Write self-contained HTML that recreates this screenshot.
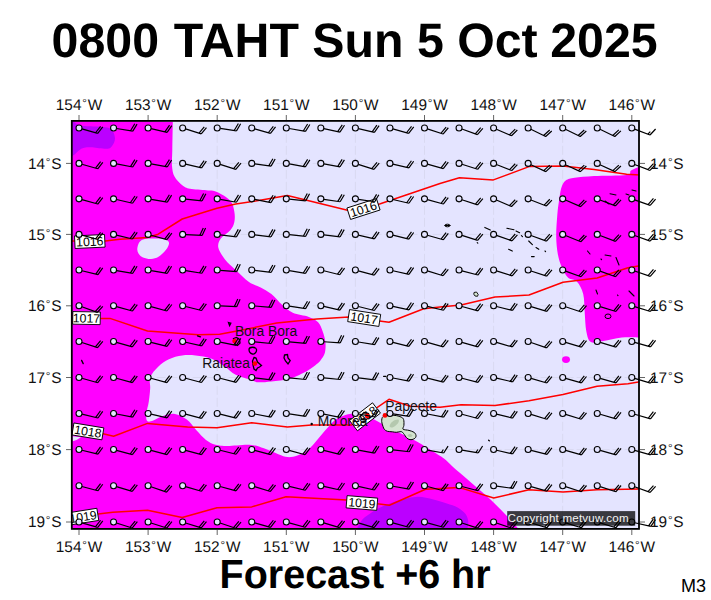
<!DOCTYPE html>
<html><head><meta charset="utf-8"><title>0800 TAHT Sun 5 Oct 2025</title>
<style>html,body{margin:0;padding:0;background:#fff;} svg{display:block;} text{font-family:"Liberation Sans",Arial,sans-serif;}</style>
</head><body>
<svg width="711" height="600" viewBox="0 0 711 600">
<defs><clipPath id="mc"><rect x="71.69999999999999" y="120.89999999999999" width="567.5999999999999" height="408.29999999999995"/></clipPath></defs>
<rect x="0" y="0" width="711" height="600" fill="#fff"/>
<g clip-path="url(#mc)">
<rect x="69.6" y="118.8" width="571.8" height="412.49999999999994" fill="#e4e4ff"/>
<path d="M562.7,121.8 V528.3 M493.6,121.8 V528.3 M424.5,121.8 V528.3 M355.4,121.8 V528.3 M286.3,121.8 V528.3 M217.2,121.8 V528.3 M148.1,121.8 V528.3 M72.6,163.4 H638.4 M72.6,234.4 H638.4 M72.6,305.8 H638.4 M72.6,377.5 H638.4 M72.6,449.6 H638.4 M72.6,522.0 H638.4" stroke="#d9d9f1" stroke-width="1" stroke-dasharray="9,3" fill="none"/>
<path d="M172.8,121.8 C172.7,126.5 172.4,142.6 172.3,150.0 C172.2,157.4 171.6,161.6 172.0,166.0 C172.4,170.4 172.8,173.3 174.5,176.5 C176.2,179.7 179.7,183.2 182.3,185.3 C184.9,187.4 186.0,188.0 190.0,188.8 C194.0,189.6 201.8,189.8 206.3,190.3 C210.8,190.8 213.0,190.2 217.0,192.0 C221.0,193.8 227.4,197.6 230.3,200.8 C233.2,204.1 233.6,207.9 234.3,211.5 C235.0,215.1 235.0,219.1 234.3,222.2 C233.6,225.3 232.5,227.5 230.3,230.2 C228.1,232.9 223.0,235.4 221.0,238.3 C219.0,241.2 217.6,244.0 218.3,247.5 C219.0,251.0 222.1,255.6 225.0,259.4 C227.9,263.1 231.7,266.2 235.7,270.0 C239.7,273.8 244.8,279.1 249.0,282.0 C253.2,284.9 257.0,285.5 260.7,287.5 C264.4,289.5 267.8,291.2 271.4,294.1 C275.0,297.0 278.5,301.7 282.1,304.8 C285.7,307.9 288.4,310.8 292.8,312.8 C297.2,314.8 304.6,315.3 308.8,316.9 C313.0,318.5 315.8,319.8 318.1,322.2 C320.4,324.6 321.5,328.3 322.7,331.6 C323.9,334.9 325.0,338.6 325.4,342.2 C325.8,345.8 325.6,349.9 324.8,352.9 C324.0,355.9 322.1,358.1 320.8,360.0 C319.5,361.9 319.0,362.2 316.8,364.0 C314.6,365.8 312.0,368.2 307.5,370.7 C303.0,373.1 296.0,376.9 290.0,378.7 C284.0,380.5 276.7,380.8 271.4,381.4 C266.1,382.0 261.3,382.5 258.0,382.3 C254.7,382.1 255.4,381.3 251.7,380.0 C248.0,378.7 240.1,376.9 235.7,374.7 C231.2,372.5 229.0,369.4 225.0,366.7 C221.0,364.0 216.5,360.6 211.6,358.7 C206.7,356.8 200.5,356.0 195.6,355.5 C190.7,355.0 186.6,354.9 182.2,355.5 C177.8,356.1 172.9,357.3 168.9,359.2 C164.9,361.1 161.3,363.7 158.2,366.7 C155.1,369.7 151.5,373.8 150.2,377.4 C148.9,380.9 150.4,384.0 150.2,388.0 C150.0,392.0 149.5,397.0 148.8,401.5 C148.1,406.0 146.4,411.5 146.2,414.8 C146.0,418.1 146.3,420.4 147.5,421.3 C148.7,422.2 150.7,421.4 153.3,420.5 C155.9,419.6 159.3,417.1 162.9,416.0 C166.5,414.9 170.9,413.4 174.9,414.0 C178.9,414.6 183.2,416.9 186.8,419.6 C190.4,422.3 193.2,426.9 196.4,430.3 C199.6,433.7 202.8,437.5 206.0,439.9 C209.2,442.3 211.9,443.7 215.5,444.7 C219.1,445.7 221.8,445.9 227.5,445.9 C233.2,445.9 243.5,444.3 249.6,444.7 C255.7,445.1 259.1,446.7 263.9,448.3 C268.7,449.9 274.3,452.7 278.3,454.2 C282.3,455.7 284.6,456.9 287.8,457.1 C291.0,457.3 294.2,456.5 297.4,455.4 C300.6,454.3 304.2,452.7 307.0,450.7 C309.8,448.7 311.8,446.1 314.2,443.5 C316.6,440.9 318.9,437.9 321.3,435.1 C323.7,432.3 326.1,429.3 328.5,426.7 C330.9,424.1 333.3,421.4 335.7,419.6 C338.1,417.8 340.5,416.9 342.9,416.0 C345.3,415.1 347.2,414.3 350.0,414.0 C352.8,413.7 356.2,413.7 359.6,414.3 C363.0,414.9 366.9,416.1 370.3,417.5 C373.7,418.9 376.4,420.9 380.0,422.8 C383.6,424.7 388.0,427.1 392.0,429.1 C396.0,431.2 399.9,433.1 403.9,435.1 C407.9,437.1 411.9,438.9 415.9,441.1 C419.9,443.3 424.2,446.1 427.8,448.3 C431.4,450.5 434.6,452.4 437.4,454.2 C440.2,456.0 442.2,457.0 444.6,459.0 C447.0,461.0 449.2,463.4 452.0,466.0 C454.8,468.6 457.8,471.1 461.5,474.3 C465.2,477.6 469.8,481.4 474.5,485.5 C479.2,489.6 484.9,494.2 490.0,499.0 C495.1,503.8 500.0,508.8 505.0,514.0 C510.0,519.2 517.5,527.6 520.0,530.3 L69.6,531.3 L69.6,118.8Z" fill="#ff00ff"/>
<path d="M137.3,248.5 C137.5,246.6 138.2,243.6 139.5,242.0 C140.8,240.4 142.4,239.6 145.0,239.0 C147.6,238.4 151.9,238.6 155.0,238.6 C158.1,238.6 161.2,238.5 163.5,239.0 C165.8,239.5 167.7,240.4 168.5,241.5 C169.3,242.6 169.1,243.9 168.5,245.5 C167.9,247.1 166.7,249.1 165.0,251.0 C163.3,252.9 160.8,255.5 158.5,256.8 C156.2,258.1 153.6,258.9 151.0,259.0 C148.4,259.1 145.1,258.4 143.0,257.5 C140.9,256.6 139.4,255.0 138.5,253.5 C137.6,252.0 137.1,250.4 137.3,248.5Z" fill="#e4e4ff"/>
<path d="M72.6,436.3 L81,437.3 L76.5,440 L72.6,441.2 Z" fill="#e4e4ff"/>
<path d="M640.4,166.0 C638.8,166.8 633.3,169.1 631.0,170.6 C628.7,172.1 632.8,174.0 626.6,174.9 C620.5,175.8 602.8,175.5 594.1,176.0 C585.5,176.5 579.4,177.0 574.7,177.7 C570.0,178.4 568.2,178.8 566.0,180.3 C563.8,181.8 562.8,183.9 561.7,186.8 C560.6,189.7 560.2,192.9 559.5,197.6 C558.8,202.3 557.8,208.5 557.3,215.0 C556.8,221.5 556.1,230.1 556.2,236.6 C556.3,243.1 556.9,248.9 557.8,254.0 C558.7,259.1 560.0,263.0 561.7,267.0 C563.4,271.0 565.7,275.4 568.2,277.8 C570.8,280.2 574.5,279.0 577.0,281.7 C579.5,284.4 581.9,288.9 583.2,294.0 C584.5,299.1 584.2,306.4 584.7,312.6 C585.2,318.8 585.3,326.3 586.3,331.2 C587.3,336.1 588.1,340.4 590.9,342.0 C593.7,343.6 598.1,341.8 603.3,341.0 C608.4,340.2 615.6,338.0 621.8,337.4 C628.0,336.8 637.3,337.4 640.4,337.4 L641.4,337.4Z" fill="#ff00ff"/>
<ellipse cx="566" cy="359.6" rx="4" ry="3.4" fill="#ff00ff"/>
<path d="M70.6,119.8 C72.0,120.7 76.6,124.0 78.8,125.0 C81.0,126.0 80.1,125.7 83.5,126.0 C86.9,126.3 94.8,126.4 99.0,126.7 C103.2,127.0 106.6,127.1 109.0,128.0 C111.4,128.9 112.2,130.4 113.2,132.0 C114.2,133.6 114.7,135.8 114.9,137.5 C115.1,139.2 114.8,140.7 114.2,142.3 C113.6,143.9 112.3,145.9 111.2,147.0 C110.1,148.1 109.8,148.5 107.8,148.7 C105.8,148.9 101.6,148.5 99.0,148.3 C96.4,148.1 94.8,147.4 92.3,147.3 C89.8,147.2 86.5,147.2 84.2,147.7 C82.0,148.2 80.4,149.3 78.8,150.4 C77.2,151.5 76.1,153.4 74.7,154.4 C73.3,155.4 71.3,156.2 70.6,156.5Z" fill="#bb00ff"/>
<path d="M356.0,530.3 C357.0,528.6 360.0,522.5 362.0,520.0 C364.0,517.5 365.3,516.9 368.0,515.0 C370.7,513.1 374.3,510.4 378.0,508.5 C381.7,506.6 386.3,504.8 390.0,503.4 C393.7,502.0 395.4,501.3 400.0,500.2 C404.6,499.1 411.9,496.8 417.5,496.7 C423.1,496.6 428.6,498.3 433.5,499.4 C438.4,500.5 442.9,502.1 446.9,503.4 C450.9,504.7 454.5,505.6 457.6,507.4 C460.7,509.2 463.8,511.7 465.6,514.1 C467.4,516.6 468.1,519.4 468.3,522.1 C468.5,524.8 467.2,528.9 467.0,530.3Z" fill="#bb00ff"/>
</g>
<g clip-path="url(#mc)">
<path d="M70.0,241.0 L105.2,241.0 L120.0,239.3 L147.5,237.5 L158.2,234.2 L182.2,219.0 L217.0,208.3 L235.7,204.0 L260.0,200.3 L287.4,195.5 L347.5,210.2 L379.6,204.0 L440.0,183.5 L459.4,177.7 L493.4,179.9 L529.0,166.6 L563.0,166.0 L594.1,169.5 L626.6,174.3 L640.4,175.0" stroke="#ff0000" stroke-width="1.5" fill="none" stroke-linejoin="round"/>
<path d="M70.0,318.5 L110.0,318.4 L147.5,331.0 L198.3,334.8 L219.7,334.2 L241.0,330.2 L276.7,323.0 L316.8,319.0 L348.9,316.9 L389.0,322.2 L423.7,308.8 L440.0,307.0 L461.0,304.9 L495.0,297.1 L529.0,295.0 L563.0,282.3 L597.1,278.0 L628.0,267.7 L640.4,265.6" stroke="#ff0000" stroke-width="1.5" fill="none" stroke-linejoin="round"/>
<path d="M70.0,430.5 L103.0,433.8 L113.6,436.3 L147.5,423.4 L187.6,426.9 L217.0,427.7 L251.7,422.8 L287.4,426.9 L311.5,425.0 L351.6,425.0 L389.0,399.3 L410.3,406.3 L440.0,407.3 L461.0,404.8 L495.0,405.4 L529.0,400.8 L563.0,394.6 L597.1,386.2 L628.0,383.8 L640.4,381.6" stroke="#ff0000" stroke-width="1.5" fill="none" stroke-linejoin="round"/>
<path d="M70.0,518.5 L98.1,514.1 L112.8,512.2 L147.5,510.3 L182.2,517.5 L217.0,507.7 L251.7,506.9 L286.0,496.7 L346.7,500.0 L389.4,505.3 L425.5,489.2 L458.9,487.4 L493.7,498.0 L529.0,489.7 L563.0,491.9 L597.1,489.7 L640.4,489.1" stroke="#ff0000" stroke-width="1.5" fill="none" stroke-linejoin="round"/>
<g transform="translate(89.8,241.5) rotate(-2.7)"><rect x="-15.0" y="-6.3" width="30" height="12.6" fill="#fff" stroke="#000" stroke-width="0.9"/><text x="0" y="4.4" text-anchor="middle" font-size="12.3" fill="#000">1016</text></g>
<g transform="translate(363.5,209) rotate(-17.8)"><rect x="-15.5" y="-6.0" width="31" height="12" fill="#fff" stroke="#000" stroke-width="0.9"/><text x="0" y="4.4" text-anchor="middle" font-size="12.3" fill="#000">1016</text></g>
<g transform="translate(86.5,318.1) rotate(1)"><rect x="-13.75" y="-6.3" width="27.5" height="12.6" fill="#fff" stroke="#000" stroke-width="0.9"/><text x="0" y="4.4" text-anchor="middle" font-size="12.3" fill="#000">1017</text></g>
<g transform="translate(364.2,318) rotate(8.8)"><rect x="-15.75" y="-6.1" width="31.5" height="12.2" fill="#fff" stroke="#000" stroke-width="0.9"/><text x="0" y="4.4" text-anchor="middle" font-size="12.3" fill="#000">1017</text></g>
<g transform="translate(87.9,431.4) rotate(9.3)"><rect x="-15.15" y="-6.05" width="30.3" height="12.1" fill="#fff" stroke="#000" stroke-width="0.9"/><text x="0" y="4.4" text-anchor="middle" font-size="12.3" fill="#000">1018</text></g>
<g transform="translate(365,416.8) rotate(-37.5)"><rect x="-14.5" y="-6.5" width="29" height="13" fill="#fff" stroke="#000" stroke-width="0.9"/><text x="0" y="4.4" text-anchor="middle" font-size="12.3" fill="#000">1018</text></g>
<g transform="translate(83,516.7) rotate(-9)"><rect x="-15.0" y="-6.15" width="30" height="12.3" fill="#fff" stroke="#000" stroke-width="0.9"/><text x="0" y="4.4" text-anchor="middle" font-size="12.3" fill="#000">1019</text></g>
<g transform="translate(361.9,503) rotate(4.7)"><rect x="-15.35" y="-6.15" width="30.7" height="12.3" fill="#fff" stroke="#000" stroke-width="0.9"/><text x="0" y="4.4" text-anchor="middle" font-size="12.3" fill="#000">1019</text></g>
</g>
<g fill="none" stroke="#000" stroke-width="1.3">
<path d="M228.5,322.5 L230.8,323.2 L229.6,325.6 Z"/>
<path d="M233.5,338.5 L236.5,337.5 L239.5,339.5 L240,343 L237.5,345.5 L235,344 Z"/>
<path d="M249,349.5 C249,346.5 256,346.5 256.5,349.5 C257,352.5 254,354.5 252.5,354 C250.5,353.5 249,352 249,349.5 Z"/>
<path d="M254,357.5 L256,358 L257.5,362 L261.5,365.5 L259.5,367 L257.5,368 L256,370.5 L254,369 L253,365 L252.5,361 Z"/>
<path d="M284.5,355 L287.5,354.5 L288,358 L290.2,360.5 L288,364 L285.5,361 L284,358 Z"/>
<path d="M360.5,416 L364,412.5 L368.5,413.5 L369.5,417.5 L365,420 L361.5,419.5 Z"/>
</g>
<path d="M383.0,416.6 C384.3,415.5 387.2,415.3 389.4,415.1 C391.6,414.9 394.3,415.3 396.3,415.6 C398.3,415.9 400.0,416.5 401.2,417.1 C402.4,417.8 403.2,418.1 403.6,419.5 C404.1,420.9 404.0,423.8 403.9,425.4 C403.8,427.0 402.2,428.4 403.1,429.2 C404.0,430.0 407.2,429.9 409.0,430.4 C410.8,430.9 412.8,431.5 414.0,432.3 C415.2,433.1 415.8,434.3 416.0,435.3 C416.2,436.3 415.8,437.5 415.0,438.2 C414.2,438.9 412.3,439.7 411.0,439.7 C409.7,439.7 408.2,439.2 407.0,438.2 C405.8,437.2 404.6,434.7 403.6,433.6 C402.6,432.5 402.4,431.8 401.2,431.6 C400.0,431.4 397.8,432.3 396.3,432.3 C394.8,432.3 393.8,432.0 392.3,431.8 C390.8,431.6 388.7,431.7 387.4,431.3 C386.1,430.9 385.1,430.2 384.4,429.4 C383.7,428.6 383.4,427.7 383.0,426.4 C382.6,425.1 381.7,423.1 381.7,421.5 C381.7,419.9 381.7,417.7 383.0,416.6Z" fill="#d4e4d0" stroke="#000" stroke-width="1"/>
<path d="M389.5,426 C390.5,422 395,419 398.5,419.5 C400,421.5 397,425 393.5,427 C391.5,428 390,427.5 389.5,426 Z" fill="#b4c8ae"/>
<path d="M407.5,435.5 C408.5,433.5 411.5,433.5 412.5,435.5 C411.5,437.5 409,437.5 407.5,435.5 Z" fill="#b4c8ae"/>
<circle cx="234.6" cy="341.1" r="2.4" fill="#f00"/>
<circle cx="254.9" cy="363.6" r="2.4" fill="#f00"/>
<circle cx="385" cy="415.4" r="2.4" fill="#f00"/>
<circle cx="367.2" cy="416" r="2.4" fill="#f00"/>
<circle cx="311.7" cy="424" r="1.2" fill="#000"/>
<path d="M445.0,225.5 L450.0,225.5 M477.2,242.6 L477.8,243.2 M484.8,227.4 L490.3,230.1 M506.8,228.3 L514.0,229.7 M516.0,231.0 L519.6,232.8 M508.6,249.3 L512.3,251.1 M521.4,235.6 L522.5,236.6 M528.7,241.0 L532.4,244.7 M536.0,247.5 L538.8,249.3 M545.0,251.0 L545.6,251.6 M531.5,256.6 L534.2,256.6 M610.0,193.8 L616.0,195.0 M605.0,201.0 L609.0,204.0 M626.0,194.0 L629.0,195.0 M632.0,190.0 L636.0,191.0 M587.5,251.0 L590.0,254.0 M605.0,255.0 L611.0,256.0 M601.0,259.0 L601.6,259.6 M616.0,257.5 L619.0,265.0 M596.0,290.0 L597.5,294.0 M617.5,295.0 L618.0,295.6 M629.0,291.0 L634.0,296.0" stroke="#000" stroke-width="1.1" fill="none" stroke-linecap="round"/>
<path d="M474,292.5 L476.5,292 L478.2,294.5 L477.5,296.3 L475,296 L473.8,294.2 Z" fill="#d4e4d0" stroke="#000" stroke-width="0.9"/>
<path d="M81.6,360.4 L83.2,363.6 M197.5,335.8 L200.5,336.8 M383.6,376.3 L385.8,376.3 M488.6,440.2 L489.3,440.8" stroke="#000" stroke-width="1.3" fill="none" stroke-linecap="round"/>
<ellipse cx="447.4" cy="225.5" rx="2.6" ry="1.3" fill="none" stroke="#000" stroke-width="1"/>
<ellipse cx="608" cy="316.3" rx="3" ry="2.3" fill="none" stroke="#000" stroke-width="1"/>
<text x="234.9" y="335.8" font-size="13.85" fill="#111">Bora Bora</text>
<text x="202.2" y="368" font-size="13.85" fill="#111">Raiatea</text>
<text x="317.8" y="425.6" font-size="13.85" fill="#111">Mo'orea</text>
<text x="385.3" y="410.8" font-size="13.85" fill="#111">Papeete</text>
<path d="M81.88,128.84 L97.74,133.39 M97.74,133.39 l5.05,-6.46 M95.53,132.75 l5.05,-6.46 M116.51,128.50 L132.79,131.16 M132.79,131.16 l4.26,-7.01 M130.52,130.79 l4.26,-7.01 M151.02,128.69 L167.10,132.40 M167.10,132.40 l4.70,-6.72 M164.86,131.88 l4.70,-6.72 M185.51,128.92 L201.24,133.91 M201.24,133.91 l5.23,-6.32 M199.04,133.21 l5.23,-6.32 M220.17,128.45 L236.49,130.89 M236.49,130.89 l4.16,-7.07 M234.21,130.55 l4.16,-7.07 M254.63,128.84 L270.49,133.39 M270.49,133.39 l5.05,-6.46 M268.28,132.75 l5.05,-6.46 M289.25,128.53 L305.50,131.40 M305.50,131.40 l4.35,-6.95 M303.24,131.00 l4.35,-6.95 M323.78,128.63 L339.92,132.06 M339.92,132.06 l4.59,-6.80 M337.67,131.59 l4.59,-6.80 M358.32,128.69 L374.40,132.40 M374.40,132.40 l4.70,-6.72 M372.16,131.88 l4.70,-6.72 M392.83,128.84 L408.69,133.39 M408.69,133.39 l5.05,-6.46 M406.48,132.75 l5.05,-6.46 M427.35,128.94 L443.05,134.04 M443.05,134.04 l5.27,-6.28 M440.86,133.33 l5.27,-6.28 M461.87,129.02 L477.41,134.58 M477.41,134.58 l5.45,-6.12 M475.24,133.81 l5.45,-6.12 M496.35,129.21 L511.48,135.79 M511.48,135.79 l5.85,-5.75 M509.37,134.87 l5.85,-5.75 M530.85,129.33 L545.68,136.56 M545.68,136.56 l6.09,-5.49 M543.61,135.55 l6.09,-5.49 M565.40,129.33 L580.23,136.56 M580.23,136.56 l6.09,-5.49 M578.16,135.55 l6.09,-5.49 M599.96,129.31 L614.84,136.44 M614.84,136.44 l6.06,-5.53 M612.76,135.44 l6.06,-5.53 M634.60,129.09 L650.00,135.00 M650.00,135.00 l5.59,-6.00 M647.86,134.17 l2.46,-2.63 M81.88,164.23 L97.74,168.77 M97.74,168.77 l5.05,-6.46 M95.53,168.14 l5.05,-6.46 M116.50,163.95 L132.72,166.99 M132.72,166.99 l4.42,-6.91 M130.46,166.56 l4.42,-6.91 M151.05,163.95 L167.27,166.95 M167.27,166.95 l4.41,-6.92 M165.01,166.53 l4.41,-6.92 M185.57,164.09 L201.63,167.89 M201.63,167.89 l4.74,-6.69 M199.39,167.36 l4.74,-6.69 M220.06,164.31 L235.78,169.33 M235.78,169.33 l5.24,-6.31 M233.59,168.63 l5.24,-6.31 M254.72,163.82 L271.06,166.11 M271.06,166.11 l4.10,-7.10 M268.78,165.79 l4.10,-7.10 M289.25,163.92 L305.50,166.79 M305.50,166.79 l4.35,-6.95 M303.24,166.39 l4.35,-6.95 M323.80,163.92 L340.05,166.79 M340.05,166.79 l4.35,-6.95 M337.79,166.39 l4.35,-6.95 M358.25,164.33 L373.95,169.43 M373.95,169.43 l5.27,-6.28 M371.76,168.72 l5.27,-6.28 M392.87,164.10 L408.91,167.95 M408.91,167.95 l4.76,-6.68 M406.67,167.42 l4.76,-6.68 M427.39,164.20 L443.30,168.58 M443.30,168.58 l4.98,-6.51 M441.08,167.97 l4.98,-6.51 M461.91,164.30 L477.65,169.26 M477.65,169.26 l5.22,-6.33 M475.45,168.57 l5.22,-6.33 M496.39,164.50 L511.74,170.55 M511.74,170.55 l5.64,-5.95 M509.60,169.70 l5.64,-5.95 M530.87,164.67 L545.82,171.64 M545.82,171.64 l6.00,-5.59 M543.74,170.67 l6.00,-5.59 M565.42,164.67 L580.37,171.64 M580.37,171.64 l6.00,-5.59 M578.29,170.67 l6.00,-5.59 M599.97,164.67 L614.92,171.64 M614.92,171.64 l6.00,-5.59 M612.84,170.67 l6.00,-5.59 M634.60,164.48 L650.00,170.39 M650.00,170.39 l5.59,-6.00 M647.86,169.56 l5.59,-6.00 M81.89,199.66 L97.80,204.04 M97.80,204.04 l4.98,-6.51 M95.58,203.43 l4.98,-6.51 M116.47,199.54 L132.55,203.25 M132.55,203.25 l4.70,-6.72 M130.31,202.74 l4.70,-6.72 M151.06,199.37 L167.33,202.12 M167.33,202.12 l4.30,-6.98 M165.06,201.73 l4.30,-6.98 M185.63,199.18 L202.04,200.90 M202.04,200.90 l3.85,-7.24 M199.76,200.66 l3.85,-7.24 M220.15,199.39 L236.40,202.25 M236.40,202.25 l4.35,-6.95 M234.14,201.85 l4.35,-6.95 M254.69,199.44 L270.89,202.59 M270.89,202.59 l4.47,-6.88 M268.63,202.15 l4.47,-6.88 M289.28,199.18 L305.69,200.90 M305.69,200.90 l3.85,-7.24 M303.41,200.66 l3.85,-7.24 M323.82,199.31 L340.14,201.75 M340.14,201.75 l4.16,-7.07 M337.86,201.41 l4.16,-7.07 M358.37,199.31 L374.69,201.75 M374.69,201.75 l4.16,-7.07 M372.41,201.41 l4.16,-7.07 M392.87,199.54 L408.95,203.25 M408.95,203.25 l4.70,-6.72 M406.71,202.74 l4.70,-6.72 M427.39,199.66 L443.30,204.04 M443.30,204.04 l4.98,-6.51 M441.08,203.43 l4.98,-6.51 M461.90,199.79 L477.60,204.89 M477.60,204.89 l5.27,-6.28 M475.41,204.18 l5.27,-6.28 M496.36,200.04 L511.55,206.49 M511.55,206.49 l5.80,-5.80 M509.43,205.59 l5.80,-5.80 M530.94,199.97 L546.29,206.01 M546.29,206.01 l5.64,-5.95 M544.15,205.17 l5.64,-5.95 M565.45,200.06 L580.60,206.61 M580.60,206.61 l5.84,-5.76 M578.49,205.70 l5.84,-5.76 M600.05,199.94 L615.45,205.85 M615.45,205.85 l5.59,-6.00 M613.31,205.03 l5.59,-6.00 M634.63,199.86 L650.20,205.31 M650.20,205.31 l5.41,-6.16 M648.03,204.55 l5.41,-6.16 M81.90,235.19 L97.84,239.46 M97.84,239.46 l4.93,-6.55 M95.61,238.86 l4.93,-6.55 M116.47,235.11 L132.51,238.97 M132.51,238.97 l4.76,-6.68 M130.27,238.43 l4.76,-6.68 M150.99,235.22 L166.87,239.69 M166.87,239.69 l5.01,-6.49 M164.66,239.07 l5.01,-6.49 M185.65,234.57 L202.12,235.43 M202.12,235.43 l3.47,-7.43 M199.83,235.31 l3.47,-7.43 M220.18,234.78 L236.55,236.79 M236.55,236.79 l3.98,-7.17 M234.27,236.51 l3.98,-7.17 M254.73,234.78 L271.10,236.79 M271.10,236.79 l3.98,-7.17 M268.82,236.51 l3.98,-7.17 M289.29,234.70 L305.71,236.28 M305.71,236.28 l3.79,-7.27 M303.42,236.06 l3.79,-7.27 M323.83,234.78 L340.20,236.79 M340.20,236.79 l3.98,-7.17 M337.92,236.51 l3.98,-7.17 M358.32,235.09 L374.40,238.80 M374.40,238.80 l4.70,-6.72 M372.16,238.28 l4.70,-6.72 M392.86,235.14 L408.87,239.13 M408.87,239.13 l4.82,-6.63 M406.64,238.57 l4.82,-6.63 M427.38,235.24 L443.24,239.79 M443.24,239.79 l5.05,-6.46 M441.03,239.15 l5.05,-6.46 M461.91,235.33 L477.63,240.34 M477.63,240.34 l5.24,-6.31 M475.44,239.64 l5.24,-6.31 M496.43,235.41 L511.98,240.92 M511.98,240.92 l5.43,-6.14 M509.81,240.15 l5.43,-6.14 M530.97,235.44 L546.47,241.08 M546.47,241.08 l5.49,-6.09 M544.31,240.30 l5.49,-6.09 M565.48,235.54 L580.78,241.72 M580.78,241.72 l5.70,-5.90 M578.65,240.86 l5.70,-5.90 M600.05,235.49 L615.45,241.40 M615.45,241.40 l5.59,-6.00 M613.31,240.58 l5.59,-6.00 M634.62,235.44 L650.12,241.08 M650.12,241.08 l5.49,-6.09 M647.96,240.30 l5.49,-6.09 M81.92,270.74 L97.97,274.56 M97.97,274.56 l4.75,-6.68 M95.73,274.03 l4.75,-6.68 M116.51,270.54 L132.78,273.29 M132.78,273.29 l4.30,-6.98 M130.51,272.91 l4.30,-6.98 M151.06,270.54 L167.33,273.29 M167.33,273.29 l4.30,-6.98 M165.06,272.91 l4.30,-6.98 M185.61,270.54 L201.88,273.26 M201.88,273.26 l4.28,-6.99 M199.61,272.88 l4.28,-6.99 M220.19,270.28 L236.64,271.61 M236.64,271.61 l3.67,-7.33 M234.34,271.42 l3.67,-7.33 M254.73,270.41 L271.10,272.42 M271.10,272.42 l3.98,-7.17 M268.82,272.14 l3.98,-7.17 M289.25,270.56 L305.50,273.43 M305.50,273.43 l4.35,-6.95 M303.24,273.03 l4.35,-6.95 M323.76,270.77 L339.77,274.76 M339.77,274.76 l4.82,-6.63 M337.54,274.20 l4.82,-6.63 M358.30,270.82 L374.24,275.09 M374.24,275.09 l4.93,-6.55 M372.01,274.49 l4.93,-6.55 M392.87,270.72 L408.95,274.43 M408.95,274.43 l4.70,-6.72 M406.71,273.91 l4.70,-6.72 M427.37,270.92 L443.15,275.74 M443.15,275.74 l5.16,-6.37 M440.95,275.07 l5.16,-6.37 M461.95,270.81 L477.90,275.02 M477.90,275.02 l4.91,-6.57 M475.68,274.44 l4.91,-6.57 M496.46,270.94 L512.20,275.91 M512.20,275.91 l5.22,-6.33 M510.00,275.21 l5.22,-6.33 M531.00,270.97 L546.70,276.07 M546.70,276.07 l5.27,-6.28 M544.51,275.36 l5.27,-6.28 M565.52,271.07 L581.02,276.71 M581.02,276.71 l5.49,-6.09 M578.86,275.93 l5.49,-6.09 M600.07,271.07 L615.57,276.71 M615.57,276.71 l5.49,-6.09 M613.41,275.93 l5.49,-6.09 M634.64,271.02 L650.24,276.39 M650.24,276.39 l5.38,-6.19 M648.06,275.64 l5.38,-6.19 M81.82,306.78 L97.32,312.43 M97.32,312.43 l5.49,-6.09 M95.16,311.64 l5.49,-6.09 M116.44,306.57 L132.32,311.04 M132.32,311.04 l5.01,-6.49 M130.11,310.41 l5.01,-6.49 M150.99,306.57 L166.88,311.00 M166.88,311.00 l5.00,-6.50 M164.67,310.38 l5.00,-6.50 M185.56,306.48 L201.57,310.48 M201.57,310.48 l4.82,-6.63 M199.34,309.92 l4.82,-6.63 M220.20,305.89 L236.68,306.64 M236.68,306.64 l3.41,-7.46 M234.38,306.54 l3.41,-7.46 M254.74,306.00 L271.18,307.36 M271.18,307.36 l3.68,-7.33 M268.89,307.17 l3.68,-7.33 M289.27,306.20 L305.59,308.61 M305.59,308.61 l4.15,-7.07 M303.32,308.27 l4.15,-7.07 M323.78,306.42 L339.87,310.05 M339.87,310.05 l4.67,-6.74 M337.63,309.54 l4.67,-6.74 M358.31,306.48 L374.32,310.48 M374.32,310.48 l4.82,-6.63 M372.09,309.92 l4.82,-6.63 M392.88,306.38 L409.02,309.81 M409.02,309.81 l4.59,-6.80 M406.77,309.33 l4.59,-6.80 M427.42,306.45 L443.48,310.24 M443.48,310.24 l4.74,-6.69 M441.24,309.72 l4.74,-6.69 M461.95,306.54 L477.89,310.81 M477.89,310.81 l4.93,-6.55 M475.66,310.21 l4.93,-6.55 M496.51,306.47 L512.54,310.41 M512.54,310.41 l4.80,-6.65 M510.30,309.86 l4.80,-6.65 M531.02,306.62 L546.83,311.36 M546.83,311.36 l5.13,-6.40 M544.62,310.70 l5.13,-6.40 M565.54,306.71 L581.19,311.95 M581.19,311.95 l5.33,-6.24 M579.01,311.22 l5.33,-6.24 M600.12,306.64 L615.90,311.46 M615.90,311.46 l5.16,-6.37 M613.70,310.79 l5.16,-6.37 M634.67,306.64 L650.45,311.46 M650.45,311.46 l5.16,-6.37 M648.25,310.79 l5.16,-6.37 M81.85,342.49 L97.55,347.59 M97.55,347.59 l5.27,-6.28 M95.36,346.88 l5.27,-6.28 M116.44,342.37 L132.33,346.81 M132.33,346.81 l5.00,-6.50 M130.12,346.19 l5.00,-6.50 M151.01,342.31 L167.00,346.38 M167.00,346.38 l4.85,-6.61 M164.77,345.81 l4.85,-6.61 M185.58,342.22 L201.67,345.85 M201.67,345.85 l4.67,-6.74 M199.43,345.35 l4.67,-6.74 M220.14,342.14 L236.34,345.29 M236.34,345.29 l4.47,-6.88 M234.08,344.85 l4.47,-6.88 M254.74,341.86 L271.15,343.50 M271.15,343.50 l3.81,-7.26 M268.86,343.27 l3.81,-7.26 M289.29,341.86 L305.71,343.47 M305.71,343.47 l3.80,-7.27 M303.42,343.24 l3.80,-7.27 M323.84,341.75 L340.31,342.79 M340.31,342.79 l3.54,-7.40 M338.02,342.64 l3.54,-7.40 M358.36,342.03 L374.66,344.61 M374.66,344.61 l4.22,-7.03 M372.39,344.25 l4.22,-7.03 M392.86,342.31 L408.84,346.41 M408.84,346.41 l4.87,-6.60 M406.61,345.84 l4.87,-6.60 M427.39,342.38 L443.27,346.84 M443.27,346.84 l5.01,-6.49 M441.06,346.22 l5.01,-6.49 M461.94,342.38 L477.82,346.84 M477.82,346.84 l5.01,-6.49 M475.61,346.22 l5.01,-6.49 M496.48,342.39 L512.34,346.94 M512.34,346.94 l5.05,-6.46 M510.13,346.31 l5.05,-6.46 M530.99,342.54 L546.59,347.91 M546.59,347.91 l5.38,-6.19 M544.41,347.16 l5.38,-6.19 M565.57,342.42 L581.39,347.14 M581.39,347.14 l5.12,-6.41 M579.18,346.48 l5.12,-6.41 M600.12,342.42 L615.94,347.14 M615.94,347.14 l5.12,-6.41 M613.73,346.48 l5.12,-6.41 M634.68,342.39 L650.54,346.94 M650.54,346.94 l5.05,-6.46 M648.33,346.31 l5.05,-6.46 M81.89,378.27 L97.77,382.74 M97.77,382.74 l5.01,-6.49 M95.56,382.12 l5.01,-6.49 M116.44,378.26 L132.34,382.67 M132.34,382.67 l4.99,-6.51 M130.12,382.06 l4.99,-6.51 M150.99,378.26 L166.89,382.67 M166.89,382.67 l4.99,-6.51 M164.67,382.06 l4.99,-6.51 M185.55,378.24 L201.49,382.51 M201.49,382.51 l4.93,-6.55 M199.26,381.91 l4.93,-6.55 M220.10,378.22 L236.06,382.41 M236.06,382.41 l4.90,-6.57 M233.84,381.83 l4.90,-6.57 M254.73,377.83 L271.10,379.84 M271.10,379.84 l3.98,-7.17 M268.82,379.56 l3.98,-7.17 M289.28,377.78 L305.69,379.50 M305.69,379.50 l3.85,-7.24 M303.41,379.26 l3.85,-7.24 M323.83,377.78 L340.24,379.50 M340.24,379.50 l3.85,-7.24 M337.96,379.26 l3.85,-7.24 M358.38,377.83 L374.75,379.84 M374.75,379.84 l3.98,-7.17 M372.47,379.56 l3.98,-7.17 M392.90,378.02 L409.10,381.12 M409.10,381.12 l4.44,-6.89 M406.85,380.69 l4.44,-6.89 M427.41,378.19 L443.42,382.18 M443.42,382.18 l4.82,-6.63 M441.19,381.62 l4.82,-6.63 M461.96,378.21 L477.94,382.31 M477.94,382.31 l4.87,-6.60 M475.71,381.74 l4.87,-6.60 M496.52,378.14 L512.60,381.85 M512.60,381.85 l4.70,-6.72 M510.36,381.33 l4.70,-6.72 M531.03,378.31 L546.86,382.97 M546.86,382.97 l5.09,-6.43 M544.65,382.32 l5.09,-6.43 M565.58,378.30 L581.42,382.94 M581.42,382.94 l5.08,-6.44 M579.21,382.29 l5.08,-6.44 M600.13,378.30 L615.97,382.94 M615.97,382.94 l5.08,-6.44 M613.76,382.29 l5.08,-6.44 M634.67,378.32 L650.48,383.07 M650.48,383.07 l5.13,-6.40 M648.27,382.41 l5.13,-6.40 M81.92,414.15 L97.97,417.98 M97.97,417.98 l4.75,-6.68 M95.73,417.44 l4.75,-6.68 M116.50,414.02 L132.70,417.11 M132.70,417.11 l4.44,-6.89 M130.45,416.68 l4.44,-6.89 M151.02,414.13 L167.10,417.84 M167.10,417.84 l4.70,-6.72 M164.86,417.33 l4.70,-6.72 M185.56,414.20 L201.54,418.31 M201.54,418.31 l4.87,-6.60 M199.31,417.73 l4.87,-6.60 M220.11,414.17 L236.14,418.11 M236.14,418.11 l4.80,-6.65 M233.90,417.56 l4.80,-6.65 M254.69,414.03 L270.89,417.18 M270.89,417.18 l4.47,-6.88 M268.63,416.74 l4.47,-6.88 M289.27,413.91 L305.58,416.41 M305.58,416.41 l4.19,-7.05 M303.30,416.06 l4.19,-7.05 M323.79,414.07 L339.94,417.41 M339.94,417.41 l4.55,-6.82 M337.69,416.94 l4.55,-6.82 M358.35,413.98 L374.60,416.84 M374.60,416.84 l4.35,-6.95 M372.34,416.44 l4.35,-6.95 M392.92,413.91 L409.23,416.41 M409.23,416.41 l4.19,-7.05 M406.95,416.06 l4.19,-7.05 M427.44,414.03 L443.64,417.18 M443.64,417.18 l4.47,-6.88 M441.38,416.74 l4.47,-6.88 M461.95,414.23 L477.89,418.50 M477.89,418.50 l4.93,-6.55 M475.66,417.91 l4.93,-6.55 M496.51,414.17 L512.54,418.11 M512.54,418.11 l4.80,-6.65 M510.30,417.56 l4.80,-6.65 M531.01,414.35 L546.77,419.26 M546.77,419.26 l5.19,-6.35 M544.57,418.57 l5.19,-6.35 M565.57,414.34 L581.33,419.22 M581.33,419.22 l5.18,-6.35 M579.13,418.54 l5.18,-6.35 M600.13,414.28 L615.99,418.83 M615.99,418.83 l5.05,-6.46 M613.78,418.20 l5.05,-6.46 M634.68,414.28 L650.54,418.83 M650.54,418.83 l5.05,-6.46 M648.33,418.20 l5.05,-6.46 M81.91,450.26 L97.95,454.17 M97.95,454.17 l4.79,-6.66 M95.71,453.62 l4.79,-6.66 M116.45,450.33 L132.39,454.60 M132.39,454.60 l4.93,-6.55 M130.16,454.00 l4.93,-6.55 M151.00,450.33 L166.94,454.60 M166.94,454.60 l4.93,-6.55 M164.71,454.00 l4.93,-6.55 M185.55,450.33 L201.49,454.60 M201.49,454.60 l4.93,-6.55 M199.26,454.00 l4.93,-6.55 M220.11,450.28 L236.12,454.27 M236.12,454.27 l4.82,-6.63 M233.89,453.71 l4.82,-6.63 M254.65,450.33 L270.59,454.60 M270.59,454.60 l4.93,-6.55 M268.36,454.00 l4.93,-6.55 M289.19,450.35 L305.10,454.73 M305.10,454.73 l4.98,-6.51 M302.88,454.12 l4.98,-6.51 M323.75,450.30 L339.73,454.43 M339.73,454.43 l4.88,-6.59 M337.50,453.86 l4.88,-6.59 M358.35,450.11 L374.56,453.17 M374.56,453.17 l4.43,-6.90 M372.30,452.74 l4.43,-6.90 M392.93,449.89 L409.32,451.76 M409.32,451.76 l3.91,-7.21 M407.04,451.50 l3.91,-7.21 M427.45,450.08 L443.69,453.00 M443.69,453.00 l4.37,-6.94 M441.43,452.60 l1.92,-3.05 M462.00,450.07 L478.25,452.94 M478.25,452.94 l4.35,-6.95 M475.99,452.54 l1.91,-3.05 M496.52,450.22 L512.60,453.94 M512.60,453.94 l4.70,-6.72 M510.36,453.42 l4.70,-6.72 M531.05,450.30 L547.03,454.43 M547.03,454.43 l4.88,-6.59 M544.80,453.86 l4.88,-6.59 M565.58,450.38 L581.44,454.92 M581.44,454.92 l5.05,-6.46 M579.23,454.29 l5.05,-6.46 M600.13,450.38 L615.99,454.92 M615.99,454.92 l5.05,-6.46 M613.78,454.29 l5.05,-6.46 M634.68,450.38 L650.54,454.92 M650.54,454.92 l5.05,-6.46 M648.33,454.29 l5.05,-6.46 M81.90,486.52 L97.84,490.79 M97.84,490.79 l4.93,-6.55 M95.61,490.20 l4.93,-6.55 M116.42,486.61 L132.23,491.35 M132.23,491.35 l5.13,-6.40 M130.02,490.69 l5.13,-6.40 M150.94,486.72 L166.55,492.06 M166.55,492.06 l5.37,-6.20 M164.37,491.32 l5.37,-6.20 M185.53,486.60 L201.35,491.28 M201.35,491.28 l5.10,-6.42 M199.14,490.63 l5.10,-6.42 M220.09,486.54 L236.00,490.92 M236.00,490.92 l4.98,-6.51 M233.78,490.31 l4.98,-6.51 M254.62,486.62 L270.40,491.45 M270.40,491.45 l5.16,-6.37 M268.20,490.77 l5.16,-6.37 M289.22,486.44 L305.27,490.26 M305.27,490.26 l4.75,-6.68 M303.03,489.73 l4.75,-6.68 M323.78,486.40 L339.88,490.00 M339.88,490.00 l4.66,-6.75 M337.64,489.50 l4.66,-6.75 M358.33,486.41 L374.42,490.03 M374.42,490.03 l4.67,-6.74 M372.18,489.53 l4.67,-6.74 M392.90,486.27 L409.15,489.13 M409.15,489.13 l4.35,-6.95 M406.89,488.73 l4.35,-6.95 M427.40,486.51 L443.35,490.73 M443.35,490.73 l4.91,-6.57 M441.13,490.14 l4.91,-6.57 M461.95,486.51 L477.90,490.73 M477.90,490.73 l4.91,-6.57 M475.68,490.14 l4.91,-6.57 M496.57,486.15 L512.92,488.39 M512.92,488.39 l4.08,-7.12 M510.64,488.08 l4.08,-7.12 M531.04,486.56 L546.91,491.06 M546.91,491.06 l5.03,-6.48 M544.70,490.43 l5.03,-6.48 M565.55,486.67 L581.25,491.77 M581.25,491.77 l5.27,-6.28 M579.06,491.06 l5.27,-6.28 M600.10,486.67 L615.80,491.77 M615.80,491.77 l5.27,-6.28 M613.61,491.06 l5.27,-6.28 M634.62,486.77 L650.12,492.42 M650.12,492.42 l5.49,-6.09 M647.96,491.63 l5.49,-6.09 M81.89,522.86 L97.76,527.36 M97.76,527.36 l5.03,-6.48 M95.55,526.73 l5.03,-6.48 M116.41,522.96 L132.12,528.01 M132.12,528.01 l5.25,-6.30 M129.93,527.31 l5.25,-6.30 M150.96,522.96 L166.67,528.01 M166.67,528.01 l5.25,-6.30 M164.48,527.31 l5.25,-6.30 M185.51,522.95 L201.25,527.91 M201.25,527.91 l5.22,-6.33 M199.05,527.22 l5.22,-6.33 M220.04,523.00 L235.68,528.27 M235.68,528.27 l5.34,-6.23 M233.50,527.53 l5.34,-6.23 M254.64,522.86 L270.51,527.36 M270.51,527.36 l5.03,-6.48 M268.30,526.73 l5.03,-6.48 M289.19,522.85 L305.08,527.29 M305.08,527.29 l5.00,-6.50 M302.87,526.67 l5.00,-6.50 M323.73,522.90 L339.55,527.59 M339.55,527.59 l5.10,-6.42 M337.34,526.93 l5.10,-6.42 M358.28,522.90 L374.10,527.59 M374.10,527.59 l5.10,-6.42 M371.89,526.93 l5.10,-6.42 M392.84,522.85 L408.73,527.29 M408.73,527.29 l5.00,-6.50 M406.52,526.67 l5.00,-6.50 M427.39,522.85 L443.28,527.29 M443.28,527.29 l5.00,-6.50 M441.07,526.67 l5.00,-6.50 M461.90,522.97 L477.60,528.07 M477.60,528.07 l5.27,-6.28 M475.41,527.36 l5.27,-6.28 M496.44,523.00 L512.08,528.27 M512.08,528.27 l5.34,-6.23 M509.90,527.53 l5.34,-6.23 M531.02,522.92 L546.80,527.75 M546.80,527.75 l5.16,-6.37 M544.60,527.08 l5.16,-6.37 M565.57,522.92 L581.35,527.75 M581.35,527.75 l5.16,-6.37 M579.15,527.08 l5.16,-6.37 M600.12,522.92 L615.90,527.75 M615.90,527.75 l5.16,-6.37 M613.70,527.08 l5.16,-6.37 M634.72,522.72 L650.80,526.43 M650.80,526.43 l4.70,-6.72 M648.56,525.92 l4.70,-6.72" stroke="#000" stroke-width="1.2" fill="none" stroke-linejoin="miter"/>
<g fill="#e4e4ff" stroke="#000" stroke-width="1.1"><circle cx="79.00" cy="128.01" r="3"/><circle cx="113.55" cy="128.01" r="3"/><circle cx="148.10" cy="128.01" r="3"/><circle cx="182.65" cy="128.01" r="3"/><circle cx="217.20" cy="128.01" r="3"/><circle cx="251.75" cy="128.01" r="3"/><circle cx="286.30" cy="128.01" r="3"/><circle cx="320.85" cy="128.01" r="3"/><circle cx="355.40" cy="128.01" r="3"/><circle cx="389.95" cy="128.01" r="3"/><circle cx="424.50" cy="128.01" r="3"/><circle cx="459.05" cy="128.01" r="3"/><circle cx="493.60" cy="128.01" r="3"/><circle cx="528.15" cy="128.01" r="3"/><circle cx="562.70" cy="128.01" r="3"/><circle cx="597.25" cy="128.01" r="3"/><circle cx="631.80" cy="128.01" r="3"/><circle cx="79.00" cy="163.40" r="3"/><circle cx="113.55" cy="163.40" r="3"/><circle cx="148.10" cy="163.40" r="3"/><circle cx="182.65" cy="163.40" r="3"/><circle cx="217.20" cy="163.40" r="3"/><circle cx="251.75" cy="163.40" r="3"/><circle cx="286.30" cy="163.40" r="3"/><circle cx="320.85" cy="163.40" r="3"/><circle cx="355.40" cy="163.40" r="3"/><circle cx="389.95" cy="163.40" r="3"/><circle cx="424.50" cy="163.40" r="3"/><circle cx="459.05" cy="163.40" r="3"/><circle cx="493.60" cy="163.40" r="3"/><circle cx="528.15" cy="163.40" r="3"/><circle cx="562.70" cy="163.40" r="3"/><circle cx="597.25" cy="163.40" r="3"/><circle cx="631.80" cy="163.40" r="3"/><circle cx="79.00" cy="198.87" r="3"/><circle cx="113.55" cy="198.87" r="3"/><circle cx="148.10" cy="198.87" r="3"/><circle cx="182.65" cy="198.87" r="3"/><circle cx="217.20" cy="198.87" r="3"/><circle cx="251.75" cy="198.87" r="3"/><circle cx="286.30" cy="198.87" r="3"/><circle cx="320.85" cy="198.87" r="3"/><circle cx="355.40" cy="198.87" r="3"/><circle cx="389.95" cy="198.87" r="3"/><circle cx="424.50" cy="198.87" r="3"/><circle cx="459.05" cy="198.87" r="3"/><circle cx="493.60" cy="198.87" r="3"/><circle cx="528.15" cy="198.87" r="3"/><circle cx="562.70" cy="198.87" r="3"/><circle cx="597.25" cy="198.87" r="3"/><circle cx="631.80" cy="198.87" r="3"/><circle cx="79.00" cy="234.41" r="3"/><circle cx="113.55" cy="234.41" r="3"/><circle cx="148.10" cy="234.41" r="3"/><circle cx="182.65" cy="234.41" r="3"/><circle cx="217.20" cy="234.41" r="3"/><circle cx="251.75" cy="234.41" r="3"/><circle cx="286.30" cy="234.41" r="3"/><circle cx="320.85" cy="234.41" r="3"/><circle cx="355.40" cy="234.41" r="3"/><circle cx="389.95" cy="234.41" r="3"/><circle cx="424.50" cy="234.41" r="3"/><circle cx="459.05" cy="234.41" r="3"/><circle cx="493.60" cy="234.41" r="3"/><circle cx="528.15" cy="234.41" r="3"/><circle cx="562.70" cy="234.41" r="3"/><circle cx="597.25" cy="234.41" r="3"/><circle cx="631.80" cy="234.41" r="3"/><circle cx="79.00" cy="270.04" r="3"/><circle cx="113.55" cy="270.04" r="3"/><circle cx="148.10" cy="270.04" r="3"/><circle cx="182.65" cy="270.04" r="3"/><circle cx="217.20" cy="270.04" r="3"/><circle cx="251.75" cy="270.04" r="3"/><circle cx="286.30" cy="270.04" r="3"/><circle cx="320.85" cy="270.04" r="3"/><circle cx="355.40" cy="270.04" r="3"/><circle cx="389.95" cy="270.04" r="3"/><circle cx="424.50" cy="270.04" r="3"/><circle cx="459.05" cy="270.04" r="3"/><circle cx="493.60" cy="270.04" r="3"/><circle cx="528.15" cy="270.04" r="3"/><circle cx="562.70" cy="270.04" r="3"/><circle cx="597.25" cy="270.04" r="3"/><circle cx="631.80" cy="270.04" r="3"/><circle cx="79.00" cy="305.76" r="3"/><circle cx="113.55" cy="305.76" r="3"/><circle cx="148.10" cy="305.76" r="3"/><circle cx="182.65" cy="305.76" r="3"/><circle cx="217.20" cy="305.76" r="3"/><circle cx="251.75" cy="305.76" r="3"/><circle cx="286.30" cy="305.76" r="3"/><circle cx="320.85" cy="305.76" r="3"/><circle cx="355.40" cy="305.76" r="3"/><circle cx="389.95" cy="305.76" r="3"/><circle cx="424.50" cy="305.76" r="3"/><circle cx="459.05" cy="305.76" r="3"/><circle cx="493.60" cy="305.76" r="3"/><circle cx="528.15" cy="305.76" r="3"/><circle cx="562.70" cy="305.76" r="3"/><circle cx="597.25" cy="305.76" r="3"/><circle cx="631.80" cy="305.76" r="3"/><circle cx="79.00" cy="341.56" r="3"/><circle cx="113.55" cy="341.56" r="3"/><circle cx="148.10" cy="341.56" r="3"/><circle cx="182.65" cy="341.56" r="3"/><circle cx="217.20" cy="341.56" r="3"/><circle cx="251.75" cy="341.56" r="3"/><circle cx="286.30" cy="341.56" r="3"/><circle cx="320.85" cy="341.56" r="3"/><circle cx="355.40" cy="341.56" r="3"/><circle cx="389.95" cy="341.56" r="3"/><circle cx="424.50" cy="341.56" r="3"/><circle cx="459.05" cy="341.56" r="3"/><circle cx="493.60" cy="341.56" r="3"/><circle cx="528.15" cy="341.56" r="3"/><circle cx="562.70" cy="341.56" r="3"/><circle cx="597.25" cy="341.56" r="3"/><circle cx="631.80" cy="341.56" r="3"/><circle cx="79.00" cy="377.46" r="3"/><circle cx="113.55" cy="377.46" r="3"/><circle cx="148.10" cy="377.46" r="3"/><circle cx="182.65" cy="377.46" r="3"/><circle cx="217.20" cy="377.46" r="3"/><circle cx="251.75" cy="377.46" r="3"/><circle cx="286.30" cy="377.46" r="3"/><circle cx="320.85" cy="377.46" r="3"/><circle cx="355.40" cy="377.46" r="3"/><circle cx="389.95" cy="377.46" r="3"/><circle cx="424.50" cy="377.46" r="3"/><circle cx="459.05" cy="377.46" r="3"/><circle cx="493.60" cy="377.46" r="3"/><circle cx="528.15" cy="377.46" r="3"/><circle cx="562.70" cy="377.46" r="3"/><circle cx="597.25" cy="377.46" r="3"/><circle cx="631.80" cy="377.46" r="3"/><circle cx="79.00" cy="413.46" r="3"/><circle cx="113.55" cy="413.46" r="3"/><circle cx="148.10" cy="413.46" r="3"/><circle cx="182.65" cy="413.46" r="3"/><circle cx="217.20" cy="413.46" r="3"/><circle cx="251.75" cy="413.46" r="3"/><circle cx="286.30" cy="413.46" r="3"/><circle cx="320.85" cy="413.46" r="3"/><circle cx="355.40" cy="413.46" r="3"/><circle cx="389.95" cy="413.46" r="3"/><circle cx="424.50" cy="413.46" r="3"/><circle cx="459.05" cy="413.46" r="3"/><circle cx="493.60" cy="413.46" r="3"/><circle cx="528.15" cy="413.46" r="3"/><circle cx="562.70" cy="413.46" r="3"/><circle cx="597.25" cy="413.46" r="3"/><circle cx="631.80" cy="413.46" r="3"/><circle cx="79.00" cy="449.55" r="3"/><circle cx="113.55" cy="449.55" r="3"/><circle cx="148.10" cy="449.55" r="3"/><circle cx="182.65" cy="449.55" r="3"/><circle cx="217.20" cy="449.55" r="3"/><circle cx="251.75" cy="449.55" r="3"/><circle cx="286.30" cy="449.55" r="3"/><circle cx="320.85" cy="449.55" r="3"/><circle cx="355.40" cy="449.55" r="3"/><circle cx="389.95" cy="449.55" r="3"/><circle cx="424.50" cy="449.55" r="3"/><circle cx="459.05" cy="449.55" r="3"/><circle cx="493.60" cy="449.55" r="3"/><circle cx="528.15" cy="449.55" r="3"/><circle cx="562.70" cy="449.55" r="3"/><circle cx="597.25" cy="449.55" r="3"/><circle cx="631.80" cy="449.55" r="3"/><circle cx="79.00" cy="485.75" r="3"/><circle cx="113.55" cy="485.75" r="3"/><circle cx="148.10" cy="485.75" r="3"/><circle cx="182.65" cy="485.75" r="3"/><circle cx="217.20" cy="485.75" r="3"/><circle cx="251.75" cy="485.75" r="3"/><circle cx="286.30" cy="485.75" r="3"/><circle cx="320.85" cy="485.75" r="3"/><circle cx="355.40" cy="485.75" r="3"/><circle cx="389.95" cy="485.75" r="3"/><circle cx="424.50" cy="485.75" r="3"/><circle cx="459.05" cy="485.75" r="3"/><circle cx="493.60" cy="485.75" r="3"/><circle cx="528.15" cy="485.75" r="3"/><circle cx="562.70" cy="485.75" r="3"/><circle cx="597.25" cy="485.75" r="3"/><circle cx="631.80" cy="485.75" r="3"/><circle cx="79.00" cy="522.05" r="3"/><circle cx="113.55" cy="522.05" r="3"/><circle cx="148.10" cy="522.05" r="3"/><circle cx="182.65" cy="522.05" r="3"/><circle cx="217.20" cy="522.05" r="3"/><circle cx="251.75" cy="522.05" r="3"/><circle cx="286.30" cy="522.05" r="3"/><circle cx="320.85" cy="522.05" r="3"/><circle cx="355.40" cy="522.05" r="3"/><circle cx="389.95" cy="522.05" r="3"/><circle cx="424.50" cy="522.05" r="3"/><circle cx="459.05" cy="522.05" r="3"/><circle cx="493.60" cy="522.05" r="3"/><circle cx="528.15" cy="522.05" r="3"/><circle cx="562.70" cy="522.05" r="3"/><circle cx="597.25" cy="522.05" r="3"/><circle cx="631.80" cy="522.05" r="3"/></g>
<rect x="507.2" y="511.1" width="128" height="14.6" fill="#000" fill-opacity="0.75"/>
<text x="507.6" y="521.7" font-size="11.6" letter-spacing="0.2" fill="#f4f4f4">Copyright metvuw.com</text>
<rect x="71.8" y="120.9" width="567.2" height="408" fill="none" stroke="#000" stroke-width="1.8"/>
<path d="M631.8,115 V120 M631.8,530 V535 M562.7,115 V120 M562.7,530 V535 M493.6,115 V120 M493.6,530 V535 M424.5,115 V120 M424.5,530 V535 M355.4,115 V120 M355.4,530 V535 M286.3,115 V120 M286.3,530 V535 M217.2,115 V120 M217.2,530 V535 M148.1,115 V120 M148.1,530 V535 M79.0,115 V120 M79.0,530 V535 M66,163.4 H71 M640,163.4 H645 M66,234.4 H71 M640,234.4 H645 M66,305.8 H71 M640,305.8 H645 M66,377.5 H71 M640,377.5 H645 M66,449.6 H71 M640,449.6 H645 M66,522.0 H71 M640,522.0 H645" stroke="#666" stroke-width="1"/>
<g font-size="15.4" fill="#111" text-rendering="geometricPrecision"><text x="631.8" y="110.2" text-anchor="middle">146<tspan font-size="11.5" dx="0.8" dy="-3">°</tspan><tspan dx="0.8" dy="3">W</tspan></text><text x="631.8" y="551.5" text-anchor="middle">146<tspan font-size="11.5" dx="0.8" dy="-3">°</tspan><tspan dx="0.8" dy="3">W</tspan></text><text x="562.7" y="110.2" text-anchor="middle">147<tspan font-size="11.5" dx="0.8" dy="-3">°</tspan><tspan dx="0.8" dy="3">W</tspan></text><text x="562.7" y="551.5" text-anchor="middle">147<tspan font-size="11.5" dx="0.8" dy="-3">°</tspan><tspan dx="0.8" dy="3">W</tspan></text><text x="493.6" y="110.2" text-anchor="middle">148<tspan font-size="11.5" dx="0.8" dy="-3">°</tspan><tspan dx="0.8" dy="3">W</tspan></text><text x="493.6" y="551.5" text-anchor="middle">148<tspan font-size="11.5" dx="0.8" dy="-3">°</tspan><tspan dx="0.8" dy="3">W</tspan></text><text x="424.5" y="110.2" text-anchor="middle">149<tspan font-size="11.5" dx="0.8" dy="-3">°</tspan><tspan dx="0.8" dy="3">W</tspan></text><text x="424.5" y="551.5" text-anchor="middle">149<tspan font-size="11.5" dx="0.8" dy="-3">°</tspan><tspan dx="0.8" dy="3">W</tspan></text><text x="355.4" y="110.2" text-anchor="middle">150<tspan font-size="11.5" dx="0.8" dy="-3">°</tspan><tspan dx="0.8" dy="3">W</tspan></text><text x="355.4" y="551.5" text-anchor="middle">150<tspan font-size="11.5" dx="0.8" dy="-3">°</tspan><tspan dx="0.8" dy="3">W</tspan></text><text x="286.3" y="110.2" text-anchor="middle">151<tspan font-size="11.5" dx="0.8" dy="-3">°</tspan><tspan dx="0.8" dy="3">W</tspan></text><text x="286.3" y="551.5" text-anchor="middle">151<tspan font-size="11.5" dx="0.8" dy="-3">°</tspan><tspan dx="0.8" dy="3">W</tspan></text><text x="217.2" y="110.2" text-anchor="middle">152<tspan font-size="11.5" dx="0.8" dy="-3">°</tspan><tspan dx="0.8" dy="3">W</tspan></text><text x="217.2" y="551.5" text-anchor="middle">152<tspan font-size="11.5" dx="0.8" dy="-3">°</tspan><tspan dx="0.8" dy="3">W</tspan></text><text x="148.1" y="110.2" text-anchor="middle">153<tspan font-size="11.5" dx="0.8" dy="-3">°</tspan><tspan dx="0.8" dy="3">W</tspan></text><text x="148.1" y="551.5" text-anchor="middle">153<tspan font-size="11.5" dx="0.8" dy="-3">°</tspan><tspan dx="0.8" dy="3">W</tspan></text><text x="79.0" y="110.2" text-anchor="middle">154<tspan font-size="11.5" dx="0.8" dy="-3">°</tspan><tspan dx="0.8" dy="3">W</tspan></text><text x="79.0" y="551.5" text-anchor="middle">154<tspan font-size="11.5" dx="0.8" dy="-3">°</tspan><tspan dx="0.8" dy="3">W</tspan></text><text x="61.5" y="168.6" text-anchor="end">14<tspan font-size="11.5" dx="0.8" dy="-3">°</tspan><tspan dx="0.8" dy="3">S</tspan></text><text x="650" y="168.6">14<tspan font-size="11.5" dx="0.8" dy="-3">°</tspan><tspan dx="0.8" dy="3">S</tspan></text><text x="61.5" y="239.6" text-anchor="end">15<tspan font-size="11.5" dx="0.8" dy="-3">°</tspan><tspan dx="0.8" dy="3">S</tspan></text><text x="650" y="239.6">15<tspan font-size="11.5" dx="0.8" dy="-3">°</tspan><tspan dx="0.8" dy="3">S</tspan></text><text x="61.5" y="310.9" text-anchor="end">16<tspan font-size="11.5" dx="0.8" dy="-3">°</tspan><tspan dx="0.8" dy="3">S</tspan></text><text x="650" y="310.9">16<tspan font-size="11.5" dx="0.8" dy="-3">°</tspan><tspan dx="0.8" dy="3">S</tspan></text><text x="61.5" y="382.6" text-anchor="end">17<tspan font-size="11.5" dx="0.8" dy="-3">°</tspan><tspan dx="0.8" dy="3">S</tspan></text><text x="650" y="382.6">17<tspan font-size="11.5" dx="0.8" dy="-3">°</tspan><tspan dx="0.8" dy="3">S</tspan></text><text x="61.5" y="454.7" text-anchor="end">18<tspan font-size="11.5" dx="0.8" dy="-3">°</tspan><tspan dx="0.8" dy="3">S</tspan></text><text x="650" y="454.7">18<tspan font-size="11.5" dx="0.8" dy="-3">°</tspan><tspan dx="0.8" dy="3">S</tspan></text><text x="61.5" y="527.2" text-anchor="end">19<tspan font-size="11.5" dx="0.8" dy="-3">°</tspan><tspan dx="0.8" dy="3">S</tspan></text><text x="650" y="527.2">19<tspan font-size="11.5" dx="0.8" dy="-3">°</tspan><tspan dx="0.8" dy="3">S</tspan></text></g>
<text transform="translate(51.6,57.0) scale(1.006,1.008)" font-size="48" text-rendering="geometricPrecision" font-weight="bold" fill="#000">0800 <tspan dx="1.3">TAHT Sun 5 Oct </tspan><tspan dx="-0.9">2025</tspan></text>
<text transform="translate(219.6,588) scale(0.987,1.015)" font-size="40" text-rendering="geometricPrecision" font-weight="bold" fill="#000">Forecast +6 hr</text>
<text x="681" y="592" font-size="18" fill="#000">M3</text>
</svg>
</body></html>
